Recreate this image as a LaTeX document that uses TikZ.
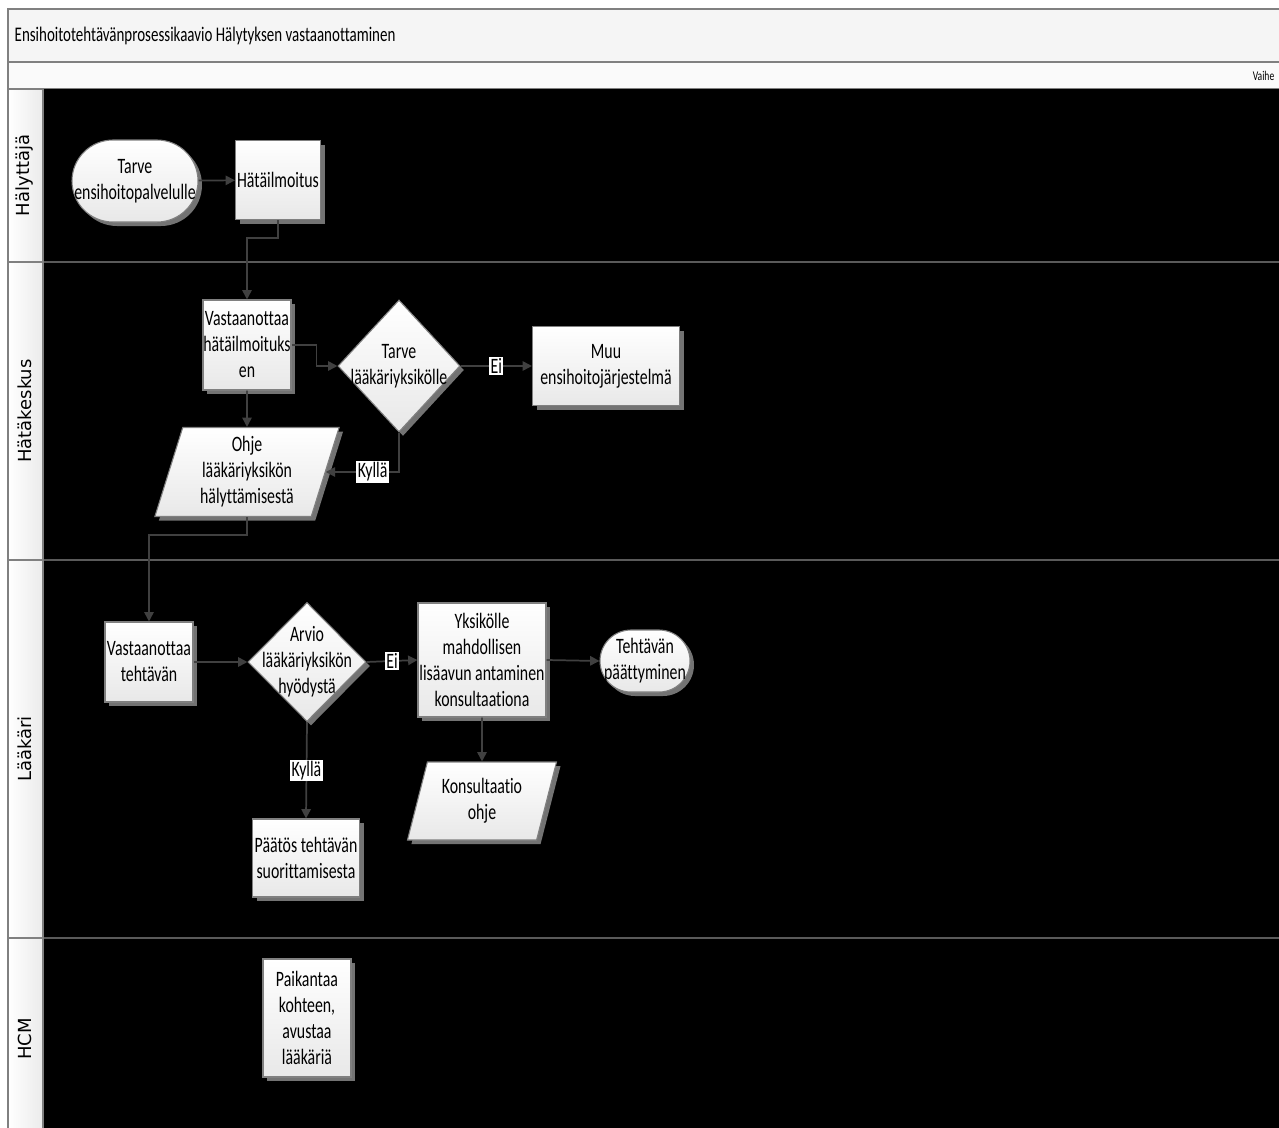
\documentclass[tikz,border=0pt]{standalone}
\usepackage{fontspec}
\setmainfont{Carlito}[FakeStretch=0.72, Ligatures=NoCommon]
\newfontfamily\lanefont{DejaVu Sans}
\usetikzlibrary{shapes.geometric,shapes.misc,shadows,arrows.meta}
\definecolor{linegray}{HTML}{404040}
\definecolor{framegray}{HTML}{808080}
\definecolor{sepgray}{HTML}{5A5A5A}

\begin{document}
\begin{tikzpicture}[x=0.75pt, y=-0.75pt,                  % one unit = one pixel, y downwards
      font=\fontsize{16.5}{19.5}\selectfont,
      base/.style={draw=framegray, line width=0.8pt, top color=white, bottom color=black!9,
                   align=center, inner sep=0pt,
                   drop shadow={shadow xshift=3pt, shadow yshift=-3pt, fill=black!55, opacity=1}},
      proc/.style={base, rectangle},                           % process box
      term/.style={base, rounded rectangle},                   % start / end
      dec/.style={base, diamond},                              % decision
      doc/.style={base, trapezium, trapezium stretches=true},  % data (parallelogram)
      conn/.style={draw=linegray, line width=1.3pt, -{Triangle[length=7pt,width=7pt]}},
      lbl/.style={fill=white, inner sep=1pt, text=black},      % Ei / Kyllä
      lane/.style={draw=framegray, line width=0.8pt, left color=white, right color=black!8},
      lanetext/.style={font=\lanefont\fontsize{13.5}{16}\selectfont, rotate=90}]
    \useasboundingbox (0,0) rectangle (1279,1128);
    % header rows
    \draw[framegray, line width=0.8pt, fill=black!4] (8,9) rectangle (1300,62);
    \draw[framegray, line width=0.8pt, fill=black!2] (8,62) rectangle (1300,89);
    \node[anchor=west, font=\fontsize{15.6}{18}\selectfont] (title) at (10,36) {Ensihoitotehtävänprosessikaavio Hälytyksen vastaanottaminen};
    \node[anchor=east, font=\fontsize{10}{12}\selectfont] (vaihe) at (1279,76) {Vaihe};
    % lanes
    \fill[black] (43,89) rectangle (1279,1128);
    \foreach \a/\b/\t in {89/262/Hälyttäjä, 262/560/Hätäkeskus, 560/938/Lääkäri, 938/1140/HCM}{
      \draw[lane] (8,\a) rectangle (43,\b);
      \draw[sepgray, line width=0.8pt] (43,\b) -- (1300,\b);
      \node[lanetext] at (25,{(\a+\b)/2}) {\t};
    }
    % Hälyttäjä
    \node[term, minimum width=94.5pt, minimum height=61.5pt,
          label={[align=center]center:Tarve\\ensihoitopalvelulle}] (start) at (135,181) {};
    \node[proc, minimum width=63.75pt, minimum height=59.25pt] (hailm) at (278,180) {Hätäilmoitus};
    % Hätäkeskus
    \node[proc, minimum width=66pt, minimum height=67.5pt] (vast1) at (247,345) {Vastaanottaa\\hätäilmoituks\\en};
    \node[dec, minimum width=91.5pt, minimum height=99pt,
          label={[align=center]center:Tarve\\lääkäriyksikölle}] (dia1) at (399,366) {};
    \node[proc, minimum width=110.25pt, minimum height=59.25pt] (muu) at (606,366) {Muu\\ensihoitojärjestelmä};
    \node[doc, trapezium left angle=74, trapezium right angle=106,
          minimum width=138.75pt, minimum height=66.75pt] (ohje1) at (247,472) {Ohje\\lääkäriyksikön\\hälyttämisestä};
    % Lääkäri
    \node[proc, minimum width=66pt, minimum height=60pt] (vast2) at (149,662) {Vastaanottaa\\tehtävän};
    \node[dec, minimum width=88.5pt, minimum height=89.25pt,
          label={[align=center]center:Arvio\\lääkäriyksikön\\hyödystä}] (dia2) at (307,662) {};
    \node[proc, minimum width=96pt, minimum height=85.5pt] (yks) at (482,660) {Yksikölle\\mahdollisen\\lisäavun antaminen\\konsultaationa};
    \node[term, minimum width=67.5pt, minimum height=46.5pt,
          label={[align=center]center:Tehtävän\\päättyminen}] (end) at (645,661) {};
    \node[doc, trapezium left angle=72, trapezium right angle=108,
          minimum width=112.5pt, minimum height=58.5pt] (kons) at (482,801) {Konsultaatio\\ohje};
    \node[proc, minimum width=80.25pt, minimum height=58.5pt] (paat) at (306,858) {Päätös tehtävän\\suorittamisesta};
    % HCM
    \node[proc, minimum width=66pt, minimum height=88.5pt] (paik) at (307,1018) {Paikantaa\\kohteen,\\avustaa\\lääkäriä};
    % connectors
    \draw[conn] (start) -- (hailm);
    \draw[conn] (hailm.south) -- ++(0,18) -| (vast1.north);
    \draw[conn] (vast1.east) -- ++(25,0) |- (dia1.west);
    \draw[conn] (dia1.east) -- node[lbl] {Ei} (muu.west);
    \draw[conn] (dia1.south) |- node[lbl, pos=0.68] {Kyllä} (ohje1.east);
    \draw[conn] (vast1.south) -- (ohje1.north);
    \draw[conn] (ohje1.south) -- ++(0,18) -| (vast2.north);
    \draw[conn] (vast2.east) -- (dia2.west);
    \draw[conn] (dia2.east) -- node[lbl] {Ei} (yks.west);
    \draw[conn] (yks.east) -- (end.west);
    \draw[conn] (yks.south) -- (kons.north);
    \draw[conn] (dia2.south) -- node[lbl] {Kyllä} (paat.north);
  \end{tikzpicture}
\end{document}
